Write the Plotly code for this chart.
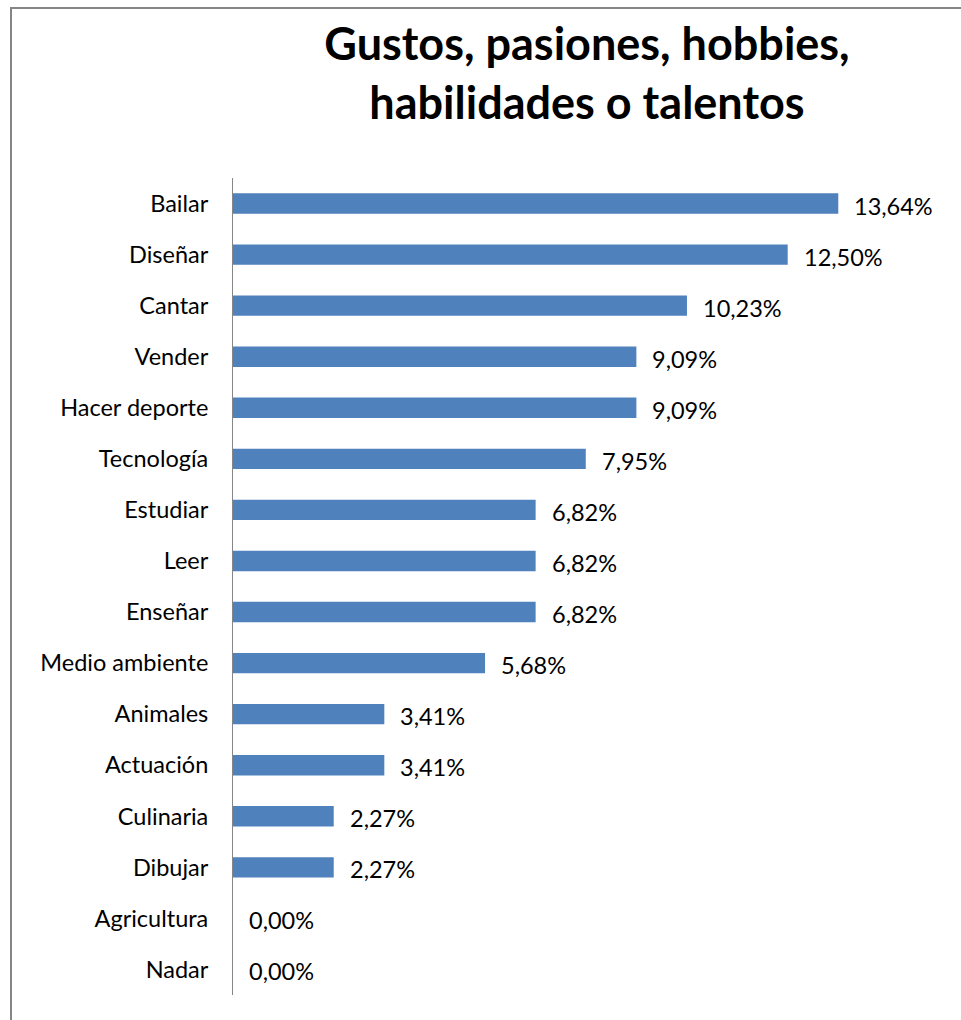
import plotly.graph_objects as go

categories = ["Bailar", "Diseñar", "Cantar", "Vender", "Hacer deporte", "Tecnología",
              "Estudiar", "Leer", "Enseñar", "Medio ambiente", "Animales", "Actuación",
              "Culinaria", "Dibujar", "Agricultura", "Nadar"]
values = [13.64, 12.50, 10.23, 9.09, 9.09, 7.95, 6.82, 6.82, 6.82, 5.68, 3.41, 3.41,
          2.27, 2.27, 0.00, 0.00]
labels = [f"{v:.2f}%".replace(".", ",") for v in values]

FONT = "Lato"
FS = 23.5

fig = go.Figure(go.Bar(
    x=values, y=categories, orientation="h",
    marker=dict(color="#4f81bd", line=dict(color="#4f81bd", width=0)),
    hoverinfo="skip",
))

for c, v, t in zip(categories, values, labels):
    fig.add_annotation(x=v, y=c, text=t, showarrow=False, xanchor="left",
                       xshift=14, yshift=-2, font=dict(family=FONT, size=FS, color="#000000"))

fig.add_shape(type="rect", xref="paper", yref="paper",
              x0=(11 - 233) / 710, x1=1.2, y0=(995 - 8) / 817, y1=-0.2,
              line=dict(color="#868686", width=2), layer="below")

fig.update_layout(
    width=961, height=1020,
    margin=dict(l=233, r=18, t=178, b=25),
    paper_bgcolor="white", plot_bgcolor="white",
    bargap=0.6,
    showlegend=False,
    title=dict(text="<b>Gustos, pasiones, hobbies,<br>habilidades o talentos</b>",
               x=587 / 961, xanchor="center", y=1 - 60 / 1020, yanchor="middle",
               font=dict(family=FONT, size=45, color="#000000")),
    xaxis=dict(range=[0, 16], visible=False, fixedrange=True),
    yaxis=dict(autorange="reversed", showline=True, linecolor="#868686", linewidth=1,
               showgrid=False, ticks="", ticklabelstandoff=19,
               tickfont=dict(family=FONT, size=FS, color="#000000"), fixedrange=True),
)

fig.write_html("out.html")
